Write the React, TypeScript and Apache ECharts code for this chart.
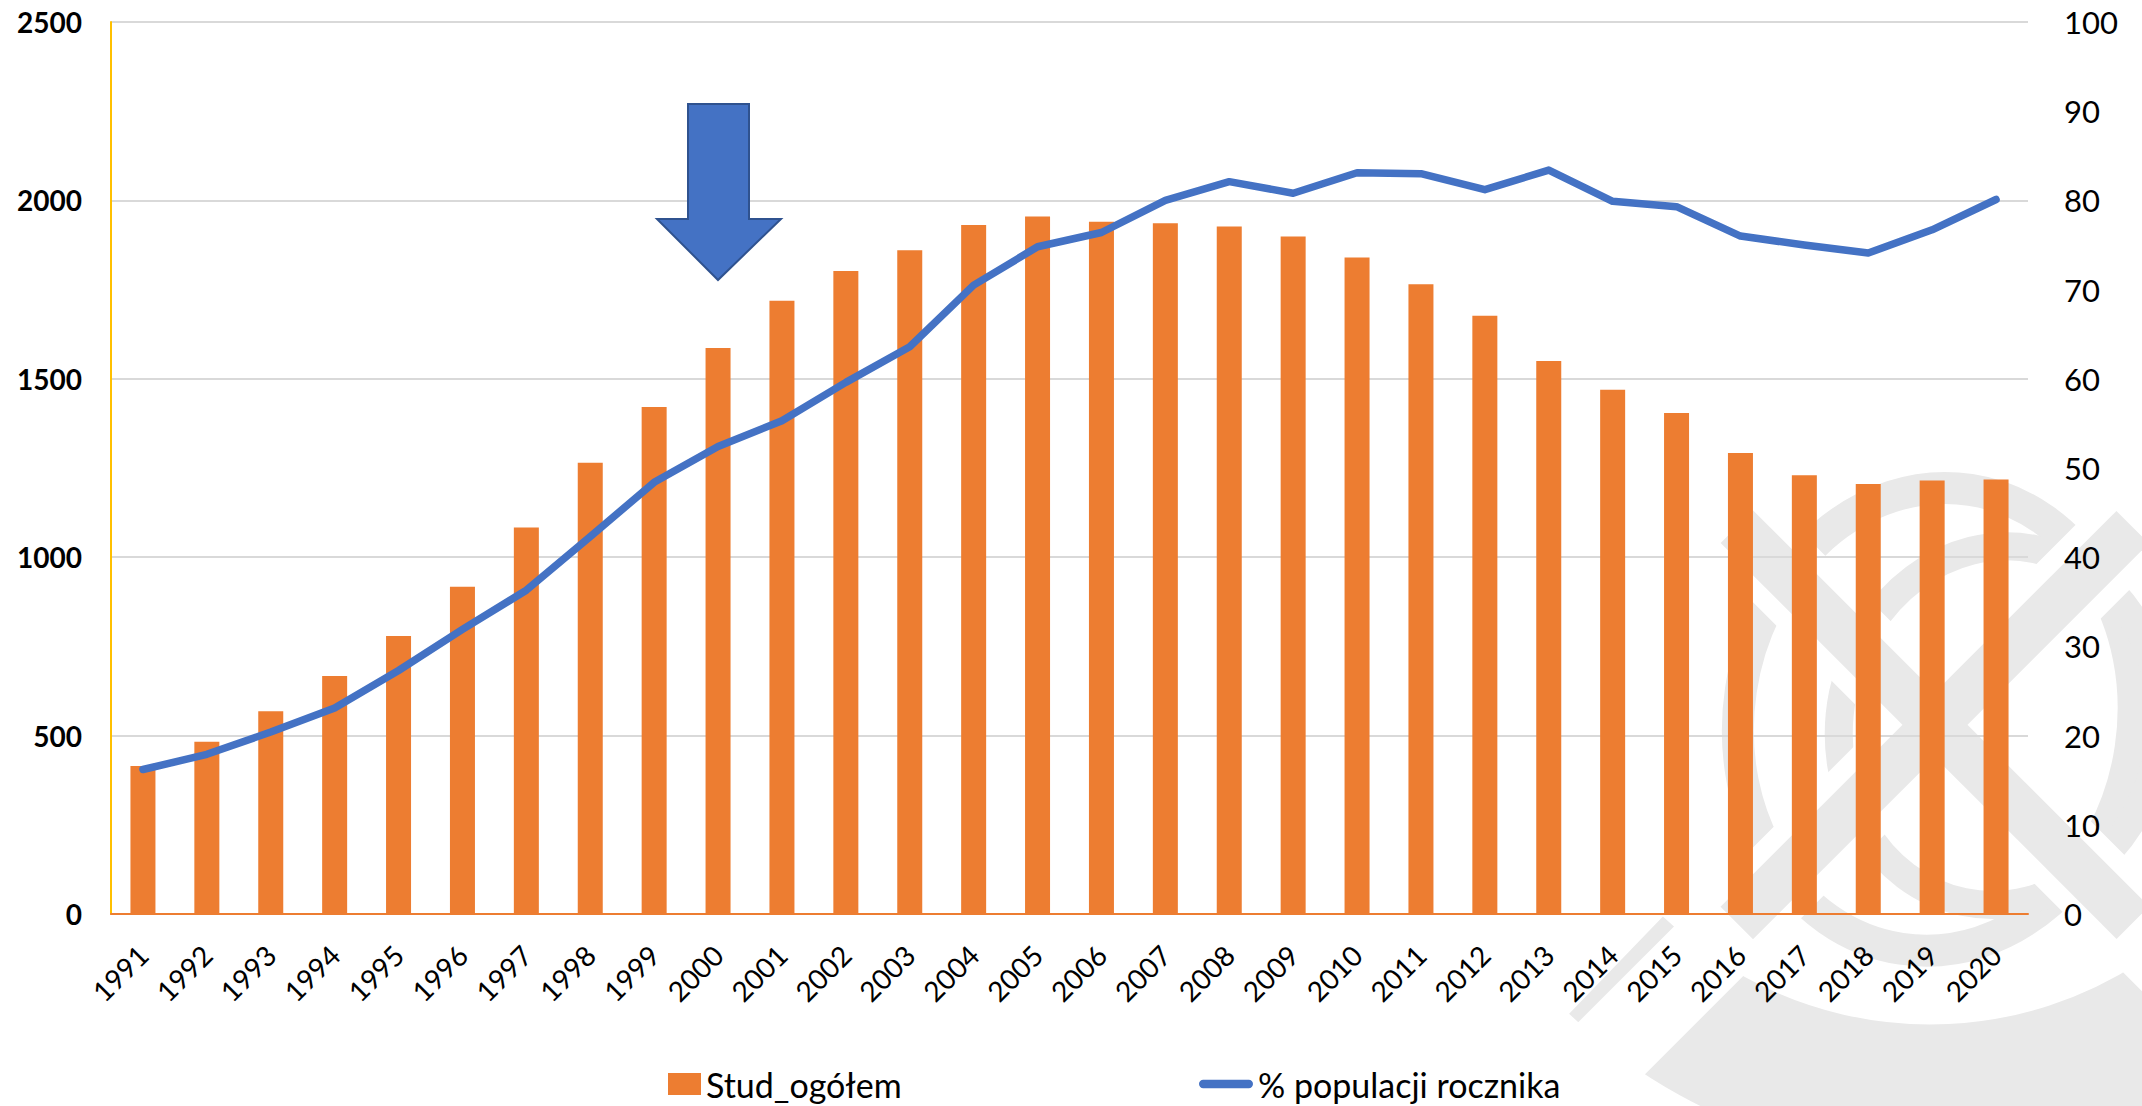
import React, { useEffect, useRef } from "react";
import * as echarts from "echarts";

const years = [
  "1991", "1992", "1993", "1994", "1995", "1996", "1997", "1998", "1999", "2000",
  "2001", "2002", "2003", "2004", "2005", "2006", "2007", "2008", "2009", "2010",
  "2011", "2012", "2013", "2014", "2015", "2016", "2017", "2018", "2019", "2020",
];
const students = [
  415, 483, 568, 667, 779, 917, 1083, 1265, 1421, 1586,
  1719, 1802, 1860, 1931, 1955, 1940, 1936, 1927, 1899, 1840,
  1765, 1677, 1550, 1469, 1404, 1292, 1230, 1205, 1215, 1218,
];
const share = [
  16.2, 17.9, 20.4, 23.1, 27.3, 31.9, 36.3, 42.3, 48.4, 52.4,
  55.3, 59.6, 63.6, 70.5, 74.8, 76.4, 80.0, 82.1, 80.8, 83.1,
  83.0, 81.2, 83.4, 79.9, 79.3, 76.0, 75.0, 74.1, 76.7, 80.1,
];
const barName = "Stud_ogółem";
const lineName = "% populacji rocznika";

const FONT = "Lato, 'Noto Sans', sans-serif";
const WM = "#e9e9e9";
const LINE_ICON =
  "path://M4.5,0 L53.5,0 A4.5,4.5 0 0 1 53.5,9 L4.5,9 A4.5,4.5 0 0 1 4.5,0 Z";

export default function App() {
  const ref = useRef<HTMLDivElement>(null);
  useEffect(() => {
    document.body.style.margin = "0";
    const chart = echarts.init(ref.current!, null, { renderer: "svg" });
    const deg = Math.PI / 180;
    const cx = 1935;
    const cy = 725;
    const xArm = (rot: number, w: number, len: number, fill: string, z: number) => ({
      type: "rect",
      z,
      silent: true,
      originX: cx,
      originY: cy,
      rotation: rot,
      shape: { x: cx - len / 2, y: cy - w / 2, width: len, height: w },
      style: { fill },
    });
    chart.setOption({
      animation: false,
      backgroundColor: "#ffffff",
      grid: { left: 111, right: 114, top: 22, bottom: 192, containLabel: false },
      legend: [
        {
          data: [{ name: barName, icon: "rect" }],
          left: 668,
          top: 1067,
          padding: 0,
          itemWidth: 33,
          itemHeight: 22,
          textStyle: { fontFamily: FONT, fontSize: 34, color: "#000" },
        },
        {
          data: [{ name: lineName, icon: LINE_ICON, itemStyle: { color: "#4472C4" } }],
          left: 1199,
          top: 1067,
          padding: 0,
          itemWidth: 54,
          itemHeight: 22,
          textStyle: { fontFamily: FONT, fontSize: 34, color: "#000" },
        },
      ],
      xAxis: {
        type: "category",
        data: years,
        axisLine: { show: true, lineStyle: { color: "#ED7D31", width: 2 } },
        axisTick: { show: false },
        axisLabel: {
          rotate: 45,
          margin: 36,
          fontFamily: FONT,
          fontSize: 28,
          color: "#000",
          interval: 0,
        },
      },
      yAxis: [
        {
          type: "value",
          min: 0,
          max: 2500,
          interval: 500,
          axisLine: { show: true, lineStyle: { color: "#FFC000", width: 2 } },
          axisTick: { show: false },
          splitLine: { show: true, lineStyle: { color: "#d9d9d9", width: 2 } },
          axisLabel: {
            margin: 29,
            fontFamily: FONT,
            fontSize: 28,
            fontWeight: "bold",
            color: "#000",
            formatter: (v: number) => String(v),
          },
        },
        {
          type: "value",
          min: 0,
          max: 100,
          interval: 10,
          position: "right",
          axisLine: { show: false },
          axisTick: { show: false },
          splitLine: { show: false },
          axisLabel: {
            margin: 36,
            fontFamily: FONT,
            fontSize: 31,
            color: "#000",
          },
        },
      ],
      series: [
        {
          name: barName,
          type: "bar",
          data: students,
          barWidth: 25,
          itemStyle: { color: "#ED7D31" },
          z: 2,
        },
        {
          name: lineName,
          type: "line",
          yAxisIndex: 1,
          data: share,
          symbol: "none",
          showSymbol: false,
          itemStyle: { color: "#4472C4" },
          lineStyle: { color: "#4472C4", width: 7.5, cap: "round", join: "round" },
          z: 3,
        },
      ],
      graphic: [
        {
          type: "arc",
          z: -4,
          silent: true,
          shape: { cx: 1930, cy: 640, r: 452, startAngle: 10 * deg, endAngle: 134 * deg },
          style: { fill: "none", stroke: WM, lineWidth: 135 },
        },
        {
          type: "ellipse",
          z: -4,
          silent: true,
          originX: cx,
          originY: 720,
          rotation: -0.15,
          shape: { cx: cx, cy: 720, rx: 197, ry: 232 },
          style: { fill: "none", stroke: WM, lineWidth: 32 },
        },
        {
          type: "ellipse",
          z: -4,
          silent: true,
          originX: 2000,
          originY: 725,
          rotation: -0.2,
          shape: { cx: 2000, cy: 725, rx: 160, ry: 180 },
          style: { fill: "none", stroke: WM, lineWidth: 28 },
        },
        xArm(Math.PI / 4, 84, 1100, "#ffffff", -3),
        xArm(-Math.PI / 4, 84, 1100, "#ffffff", -3),
        xArm(Math.PI / 4, 46, 560, WM, -2),
        xArm(-Math.PI / 4, 46, 560, WM, -2),
        {
          type: "polygon",
          z: 10,
          silent: true,
          shape: {
            points: [
              [688, 104], [749, 104], [749, 219], [781, 219],
              [718, 280], [657, 219], [688, 219],
            ],
          },
          style: { fill: "#4472C4", stroke: "#2F528F", lineWidth: 2 },
        },
      ],
    });
    return () => chart.dispose();
  }, []);
  return <div ref={ref} style={{ width: 2142, height: 1106 }} />;
}
